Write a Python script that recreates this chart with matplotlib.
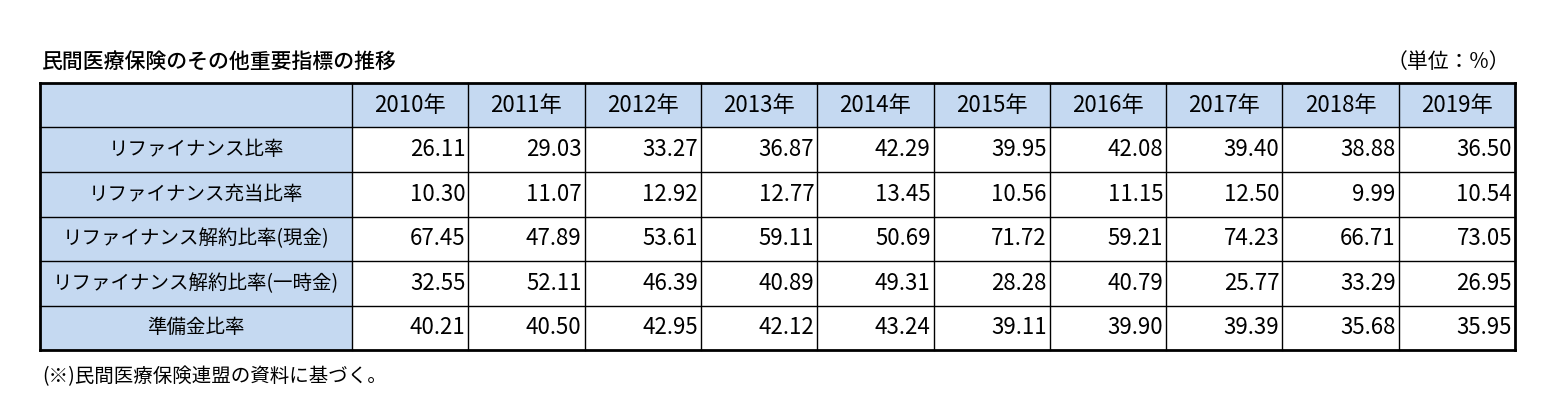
import matplotlib
matplotlib.use("Agg")
import matplotlib.pyplot as plt
from matplotlib.patches import Rectangle

plt.rcParams['font.family'] = ['Noto Sans CJK JP', 'DejaVu Sans']

years = ["2010年","2011年","2012年","2013年","2014年","2015年","2016年","2017年","2018年","2019年"]
row_labels = ["リファイナンス比率","リファイナンス充当比率","リファイナンス解約比率(現金)",
              "リファイナンス解約比率(一時金)","準備金比率"]
refinance = [26.11,29.03,33.27,36.87,42.29,39.95,42.08,39.40,38.88,36.50]
refinance_alloc = [10.30,11.07,12.92,12.77,13.45,10.56,11.15,12.50,9.99,10.54]
cancel_cash = [67.45,47.89,53.61,59.11,50.69,71.72,59.21,74.23,66.71,73.05]
cancel_lump = [32.55,52.11,46.39,40.89,49.31,28.28,40.79,25.77,33.29,26.95]
reserve = [40.21,40.50,42.95,42.12,43.24,39.11,39.90,39.39,35.68,35.95]
values = [refinance, refinance_alloc, cancel_cash, cancel_lump, reserve]

W, H = 1552, 419
fig = plt.figure(figsize=(W/100, H/100), dpi=100)
ax = fig.add_axes([0, 0, 1, 1])
ax.set_xlim(0, W); ax.set_ylim(H, 0); ax.axis('off')

left, right = 40, 1515
top = 83
hdr_h = 44.5
row_h = 44.5
c0 = 352
cw = (right - c0) / len(years)
fill = '#c5d9f1'

ax.add_patch(Rectangle((left, top), right-left, hdr_h, facecolor=fill, edgecolor='none'))
ax.add_patch(Rectangle((left, top), c0-left, hdr_h+row_h*len(row_labels), facecolor=fill, edgecolor='none'))

bottom = top + hdr_h + row_h*len(row_labels)
for i in range(len(row_labels)+2):
    y = top if i == 0 else top + hdr_h + row_h*(i-1)
    lw = 2 if i in (0, len(row_labels)+1) else 1
    ax.plot([left, right], [y, y], color='black', lw=lw)
for j in range(len(years)+2):
    x = left if j == 0 else c0 + cw*(j-1)
    lw = 2 if j in (0, len(years)+1) else 1
    ax.plot([x, x], [top, bottom], color='black', lw=lw)

for j, yr in enumerate(years):
    ax.text(c0 + cw*(j+0.5), top + hdr_h/2, yr, ha='center', va='center', fontsize=16)
for i, lab in enumerate(row_labels):
    yc = top + hdr_h + row_h*(i+0.5)
    ax.text((left+c0)/2, yc, lab, ha='center', va='center', fontsize=14)
    for j, v in enumerate(values[i]):
        ax.text(c0 + cw*(j+1) - 3, yc, f"{v:.2f}", ha='right', va='center', fontsize=16)

ax.text(42, 62, "民間医療保険のその他重要指標の推移", ha='left', va='center', fontsize=15, fontweight='medium')
ax.text(1510, 62, "（単位：%）", ha='right', va='center', fontsize=15)
ax.text(42, 377, "(※)民間医療保険連盟の資料に基づく。", ha='left', va='center', fontsize=14)

fig.savefig("out.png", dpi=100)
